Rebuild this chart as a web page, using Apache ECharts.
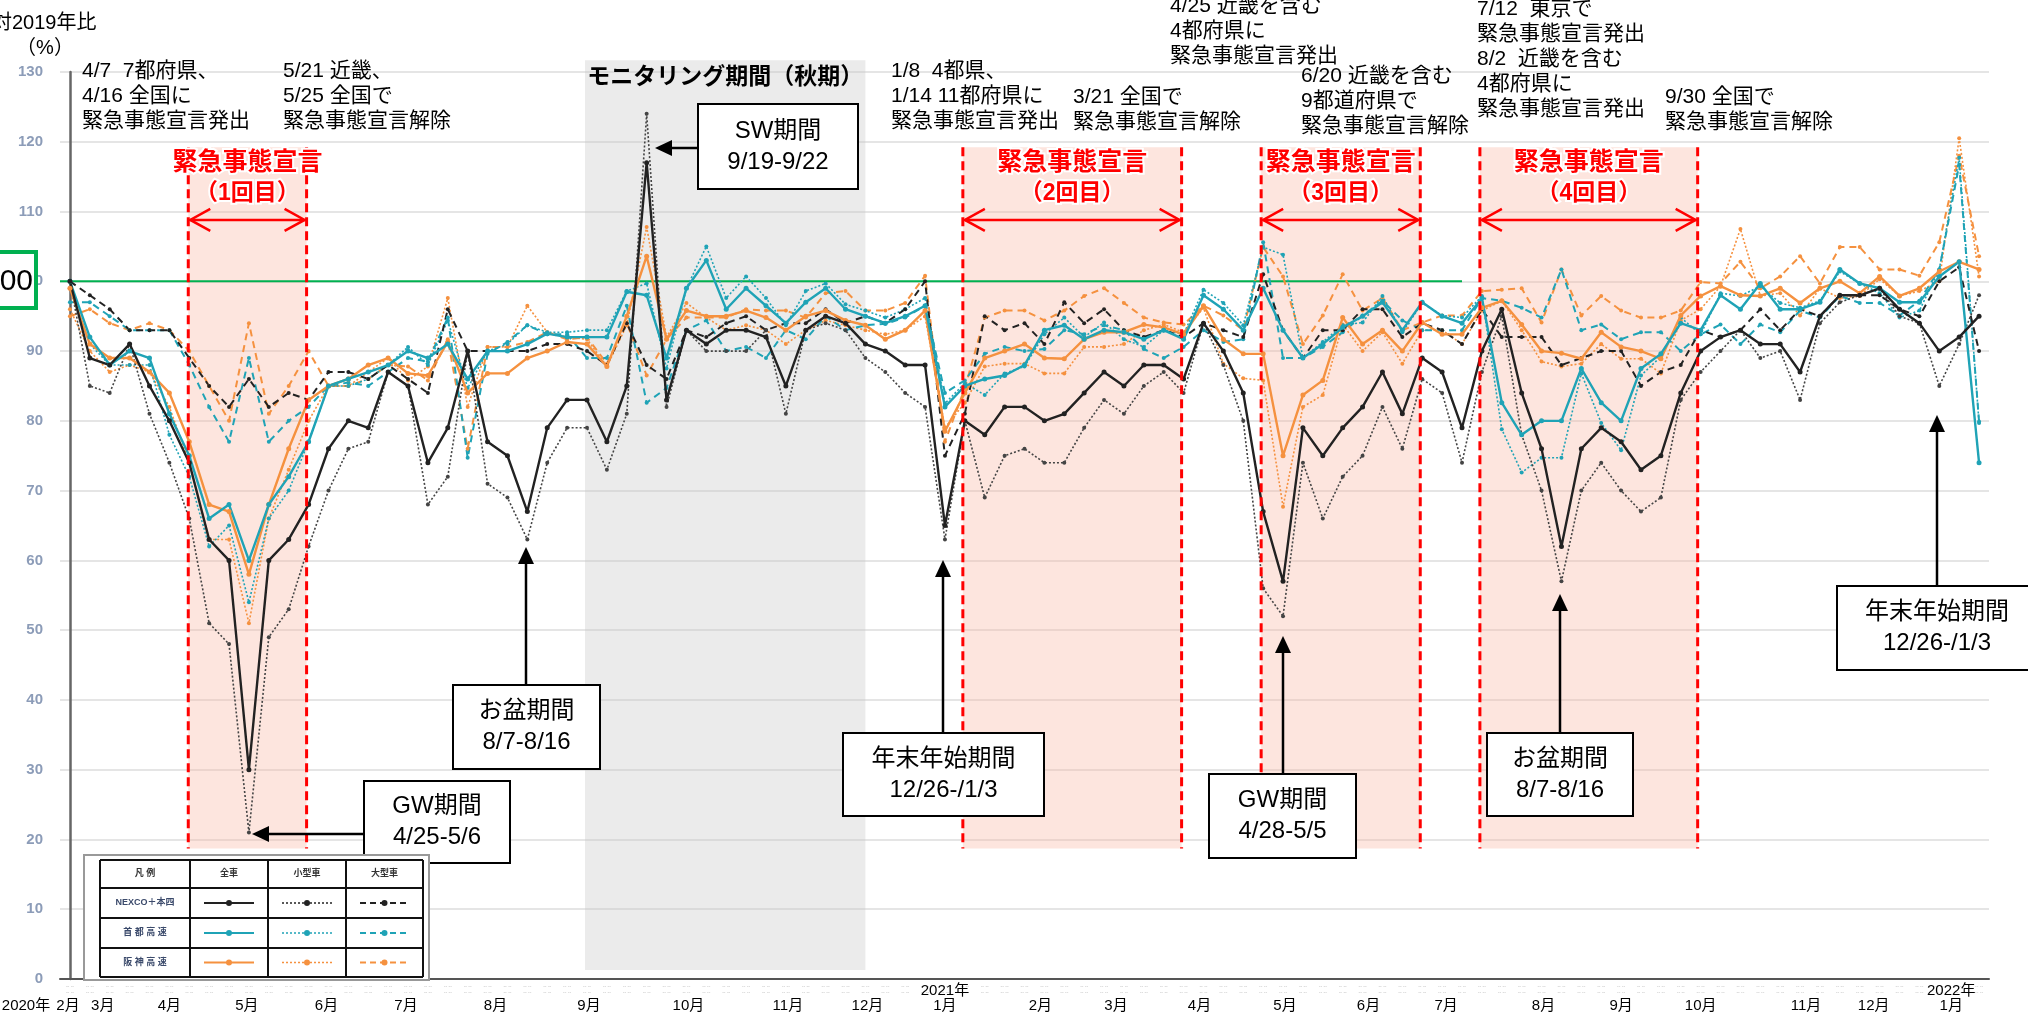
<!DOCTYPE html>
<html>
<head>
<meta charset="utf-8">
<script src="https://cdn.jsdelivr.net/npm/echarts@6/dist/echarts.min.js"></script>
<style>
html, body { margin: 0; padding: 0; background: #fff; }
#chart { width: 2028px; height: 1015px; }
</style>
</head>
<body>
<div id="chart"></div>
<script>
// weekly index 0..96 (Feb 2020 - Jan 2022), values = % of 2019
var nexcoAll = [100,89,88,91,85,80,74,63,60,30,60,63,68,76,80,79,87,
  85,74,79,90,77,75,67,79,83,83,77,85,117,83,93,91,
  93,93,92,85,93,95,94,91,90,88,88,65,80,78,82,82,80,
  81,84,87,85,88,88,86,94,90,84,67,57,79,75,79,82,
  87,81,89,87,79,90,96,84,76,62,76,79,77,73,75,84,
  90,92,93,91,91,87,95,98,98,99,96,94,90,92,95];
var nexcoSmall = [100,85,84,91,81,74,66,51,48,21,49,53,62,70,76,77,87,
  85,68,72,90,71,69,63,74,79,79,73,81,124,82,93,90,
  90,90,93,81,93,94,93,89,87,84,82,63,80,69,75,76,74,
  74,79,83,81,85,87,84,94,88,80,56,52,74,66,72,75,
  82,76,86,84,74,87,95,78,70,57,70,74,70,67,69,83,
  87,90,93,89,90,83,94,97,98,99,95,94,85,91,98];
var nexcoLarge = [100,98,96,93,93,93,89,85,82,86,82,84,83,87,87,86,88,
  86,84,96,90,90,90,90,91,91,90,88,94,88,86,93,92,
  94,95,93,94,94,96,94,95,94,96,100,75,81,95,93,94,91,
  97,94,96,93,92,93,92,94,93,92,101,93,89,93,93,96,
  96,92,94,93,91,96,92,92,92,88,89,90,90,85,87,88,
  93,92,93,96,93,96,95,98,98,98,96,95,100,102,90];
var shutoAll = [100,92,88,90,89,81,75,66,68,60,68,72,77,85,86,87,88,
  90,89,91,86,90,90,91,92.5,92,92,92,98.5,98,89,99,103,
  96,99,96.5,94,97,99,96,95,94,95,96.5,82,85,86,86.5,88,93,
  93.7,91.7,93,92.7,91.7,93,91.7,98,96,93,99,93,89,91,93.4,95,
  97,93,97,95,94,97.6,82.6,78,80,80,87.5,82.6,80,87.5,89.6,94,
  93,98,96,99.7,96,96,97,101.7,99.7,99,97,97,100.7,102.8,74];
var shutoSmall = [99,91,88,88,88,78,72,62,65,54,66,70,77,85,85,86,88,
  90.6,88,94.4,84.7,90,91,93.7,92.7,92.7,93,93,98.6,99.7,87.5,99,105,
  97.6,100.7,97.6,93.7,98.6,99.7,96.7,95.8,94.8,96,97.6,82.5,85.4,83.7,86.8,87.8,92.4,
  94.8,92,94.1,91.7,90.6,93,92.4,98.8,96.9,93.7,104.9,103.8,89,91.3,93.7,94.1,
  97.9,92.7,96.9,95.1,94.8,97.9,78.8,72.6,74.7,74.7,86.8,79.7,75.8,86.5,89.2,94.8,
  92.4,98.3,97.9,99.3,96.9,96.2,97.2,101.4,99.7,98.3,94.8,95.8,101.7,117.7,79.7];
var shutoLarge = [97,97,95,93,93,93,88,82,77,89,77,80,82,85,85.5,85,87,
  89,88.5,94.8,74.7,89.6,91.3,93.7,92.4,92.4,89,89,96.5,82.6,84.7,93,94.4,
  90,90.6,89,93,91.7,95,93,93.7,93.9,94.8,96.5,84,85.8,89.6,90.6,90,90.3,
  93,92.4,93.7,93,90.3,89,90.6,93,91.3,91.7,105.6,89,89,90.6,92.7,95.1,
  97.2,94.4,93,93,93,97.6,97.2,96.2,94.8,101.7,93,93.8,91.7,92.7,92.7,90,
  92.4,93.8,91,93.8,92.7,95.8,94.8,97.9,96.9,96.9,95.1,97.2,101.7,116.7,79.9];
var hanshinAll = [99,91,89,89,87,84,77,68,67,58,68,76,83,85,86,88,89,
  86.8,86.5,91.3,84,86.8,86.8,89,90,91.3,91,87.8,95,103.6,91.7,95.8,95,
  95,95.8,94.8,93,95,95.8,94.4,93.7,91.7,93,95.8,78.5,84,89,90,91,89,
  88.9,91.7,92.7,92.7,93.8,93.4,92.4,96.5,91.7,89.6,89.6,75,83.7,85.8,94.8,91,
  93,90,94.1,92.4,92.4,96.2,97.2,93.8,90,89.7,88.9,92.7,90.6,90,88.9,95.1,
  97.9,99.3,98,97.9,99,96.9,99,100,98.3,100.7,97.9,99,101.4,102.8,101.7];
var hanshinSmall = [96,90,87,88,87,82,74,63,63,51,66,73,80,85,85,87,89,
  85.8,87.8,97.6,82,90.6,90.6,96.5,92.7,92,91.7,87.8,93.7,107.8,92,96.9,94.8,
  93,93.7,93,91,93,94.4,93.7,93,92.4,93,95,79,82.6,87.8,88.2,88.2,86.8,
  86.8,90.6,90.6,91,93,93.8,92.7,96.2,88.2,86.1,85.8,67.7,82,83.7,93.8,90,
  92.7,88.2,93,93,91,95.8,97.2,93,88.5,87.8,88.2,91,88.9,88.9,86.8,94.4,
  96,99.3,107.5,97.9,98.3,95.1,99,97.6,97.9,100.3,97.9,98.6,100,120.5,100.7];
var hanshinLarge = [95,96,94,93,94,93,90,85,80,94,81,85,90,85,85,86,88,
  87.8,85.8,91.7,76,90.6,90.6,91.3,92.7,91.7,92,88.2,94,86.5,91.7,94.8,94.8,
  94.8,96,95.8,95.8,94.8,98.3,98.6,95.8,95.8,96.9,100.8,77,84.7,94.8,95.8,95.8,94.4,
  95.8,97.9,99,96.9,94.8,94.1,93.8,96.5,95.1,93,104.9,100.7,91,95.1,101,95.8,
  97.6,93,94.1,95.1,95.1,98.6,98.8,99,94.1,101.7,95.1,97.9,95.8,94.8,94.8,95.8,
  99.9,99.7,102.8,99,100.7,103.6,99.7,104.9,104.9,101.7,101.7,100.8,105.6,118,103.6];

// month tick labels (position on the weekly index)
var monthPos = [-0.1,1.65,5,8.9,12.9,16.9,21.4,26.1,31.1,36.1,40.1,44,48.8,52.6,56.8,61.1,65.3,69.2,74.1,78,82,87.3,90.7,94.6];
var monthText = ['2月','3月','4月','5月','6月','7月','8月','9月','10月','11月','12月','2021年\n1月',
  '2月','3月','4月','5月','6月','7月','8月','9月','10月','11月','12月','2022年\n1月'];

// periods on the weekly index
var emergStart = [5.95, 44.9, 59.9, 70.9];
var emergEnd = [11.9, 55.9, 67.9, 81.85];
var emergName = ['（1回目）', '（2回目）', '（3回目）', '（4回目）'];
var monitorRange = [25.9, 40.0];
var baseEnd = 70.0;

var weekIdx = [];
for (var k = 0; k < nexcoAll.length; k++) weekIdx.push(k);

var FONT = '"Liberation Sans", "Noto Sans CJK JP", sans-serif';
var NARROW = '"Liberation Sans Narrow", "Liberation Sans", "Noto Sans CJK JP", sans-serif';
var BLACK = '#222', TEAL = '#1fa3b6', ORANGE = '#f5913f';

function mk(name, data, color, kind) {
  var ls = { all: { type: 'solid', width: 2.4 }, small: { type: [2, 2], width: 1.6 }, large: { type: [7, 5], width: 2 } }[kind];
  return {
    name: name,
    type: 'line',
    data: data.map(function (v, i) { return [i, v]; }),
    symbol: 'circle',
    symbolSize: kind === 'all' ? 5 : 4,
    lineStyle: { color: color, type: ls.type, width: ls.width },
    itemStyle: { color: color },
    z: kind === 'all' ? 4 : 3
  };
}

var chart = echarts.init(document.getElementById('chart'));

var option = {
  animation: false,
  grid: { left: 60, right: 39, top: 72, bottom: 36 },
  xAxis: {
    type: 'value', min: -0.5, max: 96.5,
    axisLine: { lineStyle: { color: '#555', width: 2 } },
    axisTick: { show: false },
    splitLine: { show: false },
    axisLabel: {
      customValues: weekIdx, hideOverlap: false,
      formatter: function () { return '-- --\n-- --'; },
      fontSize: 5, lineHeight: 6, color: '#bdbdbd', margin: 5
    }
  },
  yAxis: {
    type: 'value', min: 0, max: 130, interval: 10,
    axisLine: { show: true, lineStyle: { color: '#666', width: 2.5 } },
    axisTick: { show: false },
    splitLine: { lineStyle: { color: '#dcdcdc', width: 1.5 } },
    axisLabel: { fontSize: 15, fontWeight: 'bold', color: '#8c9cb8', margin: 17, fontFamily: FONT }
  },
  series: [
    mk('阪神高速 大型車', hanshinLarge, ORANGE, 'large'),
    mk('阪神高速 小型車', hanshinSmall, ORANGE, 'small'),
    mk('阪神高速 全車', hanshinAll, ORANGE, 'all'),
    mk('首都高速 大型車', shutoLarge, TEAL, 'large'),
    mk('首都高速 小型車', shutoSmall, TEAL, 'small'),
    mk('首都高速 全車', shutoAll, TEAL, 'all'),
    mk('NEXCO＋本四 大型車', nexcoLarge, BLACK, 'large'),
    mk('NEXCO＋本四 小型車', nexcoSmall, '#444', 'small'),
    mk('NEXCO＋本四 全車', nexcoAll, BLACK, 'all')
  ]
};
chart.setOption(option);

function P(x, y) { return chart.convertToPixel({ seriesIndex: 0 }, [x, y]); }

function txt(x, y, s, size, opt) {
  opt = opt || {};
  return {
    type: 'text', z: opt.z || 20,
    style: {
      x: x, y: y, text: s, fontSize: size, fontFamily: opt.family || FONT,
      fontWeight: opt.bold ? 'bold' : 'normal', fill: opt.color || '#000',
      align: opt.align || 'left', verticalAlign: opt.va || 'top',
      lineHeight: opt.lh || Math.round(size * 1.2),
      stroke: opt.stroke, lineWidth: opt.stroke ? 4 : 0
    }
  };
}

function arrow(x1, y1, x2, y2) {
  var dx = x2 - x1, dy = y2 - y1, L = Math.sqrt(dx * dx + dy * dy), ux = dx / L, uy = dy / L;
  var hl = 17, hw = 8, bx = x2 - ux * hl, by = y2 - uy * hl;
  return [
    { type: 'line', z: 20, shape: { x1: x1, y1: y1, x2: bx, y2: by }, style: { stroke: '#000', lineWidth: 2.5 } },
    { type: 'polygon', z: 20, shape: { points: [[x2, y2], [bx - uy * hw, by + ux * hw], [bx + uy * hw, by - ux * hw]] }, style: { fill: '#000' } }
  ];
}

var g = [];

// monitoring period (grey)
var m0 = P(monitorRange[0], 1.3), m1 = P(monitorRange[1], 131.7);
g.push({ type: 'rect', z: 1, shape: { x: m0[0], y: m1[1], width: m1[0] - m0[0], height: m0[1] - m1[1] }, style: { fill: 'rgba(200,200,200,0.36)' } });
g.push(txt((m0[0] + m1[0]) / 2, 78, 'モニタリング期間（秋期）', 23, { bold: true, align: 'center', va: 'middle' }));

// emergency periods
for (var e = 0; e < emergStart.length; e++) {
  var a = P(emergStart[e], 119.2), b = P(emergEnd[e], 18.7);
  g.push({ type: 'rect', z: 1, shape: { x: a[0], y: a[1], width: b[0] - a[0], height: b[1] - a[1] }, style: { fill: 'rgba(249,184,164,0.36)' } });
  [a[0], b[0]].forEach(function (xx) {
    g.push({ type: 'line', z: 15, shape: { x1: xx, y1: a[1], x2: xx, y2: b[1] }, style: { stroke: '#ff0000', lineWidth: 3, lineDash: [9, 5] } });
  });
  var cx = (a[0] + b[0]) / 2;
  g.push(txt(cx, P(0, 117)[1], '緊急事態宣言', 25, { bold: true, color: '#ff0000', align: 'center', va: 'middle', stroke: '#fff' }));
  g.push(txt(cx, P(0, 112.5)[1], emergName[e], 23, { bold: true, color: '#ff0000', align: 'center', va: 'middle', stroke: '#fff' }));
  var ay = P(0, 108.8)[1];
  g.push({ type: 'line', z: 15, shape: { x1: a[0] + 2, y1: ay, x2: b[0] - 2, y2: ay }, style: { stroke: '#ff0000', lineWidth: 2.5 } });
  g.push({ type: 'polyline', z: 15, shape: { points: [[a[0] + 22, ay - 11], [a[0] + 2, ay], [a[0] + 22, ay + 11]] }, style: { stroke: '#ff0000', lineWidth: 2.5, fill: null } });
  g.push({ type: 'polyline', z: 15, shape: { points: [[b[0] - 22, ay - 11], [b[0] - 2, ay], [b[0] - 22, ay + 11]] }, style: { stroke: '#ff0000', lineWidth: 2.5, fill: null } });
}

// 100 line
var l0 = P(-0.5, 100), l1 = P(baseEnd, 100);
g.push({ type: 'line', z: 2, shape: { x1: l0[0], y1: l0[1], x2: l1[0], y2: l1[1] }, style: { stroke: '#00b050', lineWidth: 2 } });
g.push({ type: 'rect', z: 20, shape: { x: -10, y: 252, width: 46, height: 56 }, style: { fill: '#fff', stroke: '#00b050', lineWidth: 4 } });
g.push(txt(33, 282, '100', 30, { align: 'right', va: 'middle' }));

// axis titles and month labels
g.push(txt(-8, 23, '対2019年比', 20, { va: 'middle' }));
g.push(txt(45, 48, '（%）', 20, { align: 'center', va: 'middle' }));
g.push(txt(26, 1006, '2020年', 15, { align: 'center', va: 'middle', family: NARROW }));
monthPos.forEach(function (p, j) {
  var s = monthText[j].indexOf('\n') < 0 ? '\n' + monthText[j] : monthText[j];
  g.push(txt(P(p, 0)[0], 1013, s, 15, { align: 'center', va: 'bottom', lh: 15, family: NARROW }));
});

// announcements
var notes = [
  [82, 59, '4/7  7都府県、\n4/16 全国に\n緊急事態宣言発出'],
  [283, 59, '5/21 近畿、\n5/25 全国で\n緊急事態宣言解除'],
  [891, 59, '1/8  4都県、\n1/14 11都府県に\n緊急事態宣言発出'],
  [1073, 85, '3/21 全国で\n緊急事態宣言解除'],
  [1170, -6, '4/25 近畿を含む\n4都府県に\n緊急事態宣言発出'],
  [1301, 64, '6/20 近畿を含む\n9都道府県で\n緊急事態宣言解除'],
  [1477, -3, '7/12  東京で\n緊急事態宣言発出\n8/2  近畿を含む\n4都府県に\n緊急事態宣言発出'],
  [1665, 85, '9/30 全国で\n緊急事態宣言解除']
];
notes.forEach(function (n) { g.push(txt(n[0], n[1], n[2], 21, { lh: 25 })); });

// callouts
var boxes = [
  { x: 698, y: 104, w: 160, h: 85, t: 'SW期間\n9/19-9/22', ar: [698, 148, 655, 148] },
  { x: 453, y: 685, w: 147, h: 84, t: 'お盆期間\n8/7-8/16', ar: [526, 685, 526, 547] },
  { x: 364, y: 781, w: 146, h: 82, t: 'GW期間\n4/25-5/6', ar: [364, 834, 252, 834] },
  { x: 843, y: 733, w: 201, h: 83, t: '年末年始期間\n12/26-/1/3', ar: [943, 733, 943, 560] },
  { x: 1209, y: 774, w: 147, h: 84, t: 'GW期間\n4/28-5/5', ar: [1283, 774, 1283, 636] },
  { x: 1487, y: 733, w: 146, h: 83, t: 'お盆期間\n8/7-8/16', ar: [1560, 733, 1560, 594] },
  { x: 1837, y: 586, w: 200, h: 84, t: '年末年始期間\n12/26-/1/3', ar: [1937, 586, 1937, 415] }
];
boxes.forEach(function (bx) {
  g.push({ type: 'rect', z: 19, shape: { x: bx.x, y: bx.y, width: bx.w, height: bx.h }, style: { fill: '#fff', stroke: '#000', lineWidth: 2 } });
  g.push(txt(bx.x + bx.w / 2, bx.y + bx.h / 2, bx.t, 24, { align: 'center', va: 'middle', lh: 31 }));
  arrow(bx.ar[0], bx.ar[1], bx.ar[2], bx.ar[3]).forEach(function (o) { g.push(o); });
});

// legend table
var cols = [100, 190, 268, 346, 423], rows = [860, 888, 918, 948, 977];
g.push({ type: 'rect', z: 19, shape: { x: 84, y: 855, width: 345, height: 125 }, style: { fill: '#fff', stroke: '#999', lineWidth: 2 } });
cols.forEach(function (c) { g.push({ type: 'line', z: 20, shape: { x1: c, y1: rows[0], x2: c, y2: rows[4] }, style: { stroke: '#111', lineWidth: 2 } }); });
rows.forEach(function (r) { g.push({ type: 'line', z: 20, shape: { x1: cols[0], y1: r, x2: cols[4], y2: r }, style: { stroke: '#111', lineWidth: 2 } }); });
var heads = ['凡 例', '全車', '小型車', '大型車'];
heads.forEach(function (h, i) { g.push(txt((cols[i] + cols[i + 1]) / 2, (rows[0] + rows[1]) / 2, h, 9, { bold: true, align: 'center', va: 'middle', color: '#333' })); });
var rowNames = ['NEXCO＋本四', '首 都 高 速', '阪 神 高 速'];
var rowColors = [BLACK, TEAL, ORANGE];
var kinds = [{ d: null, w: 2 }, { d: [2, 2], w: 1.5 }, { d: [6, 4], w: 2 }];
rowNames.forEach(function (nm, r) {
  var cy = (rows[r + 1] + rows[r + 2]) / 2;
  g.push(txt((cols[0] + cols[1]) / 2, cy, nm, 9, { bold: true, align: 'center', va: 'middle', color: '#3b4a6b' }));
  for (var c = 1; c <= 3; c++) {
    var x1 = cols[c] + 14, x2 = cols[c + 1] - 14;
    g.push({ type: 'line', z: 20, shape: { x1: x1, y1: cy, x2: x2, y2: cy }, style: { stroke: rowColors[r], lineWidth: kinds[c - 1].w, lineDash: kinds[c - 1].d } });
    g.push({ type: 'circle', z: 20, shape: { cx: (x1 + x2) / 2, cy: cy, r: 3 }, style: { fill: rowColors[r] } });
  }
});

chart.setOption({ graphic: g });
</script>
</body>
</html>
